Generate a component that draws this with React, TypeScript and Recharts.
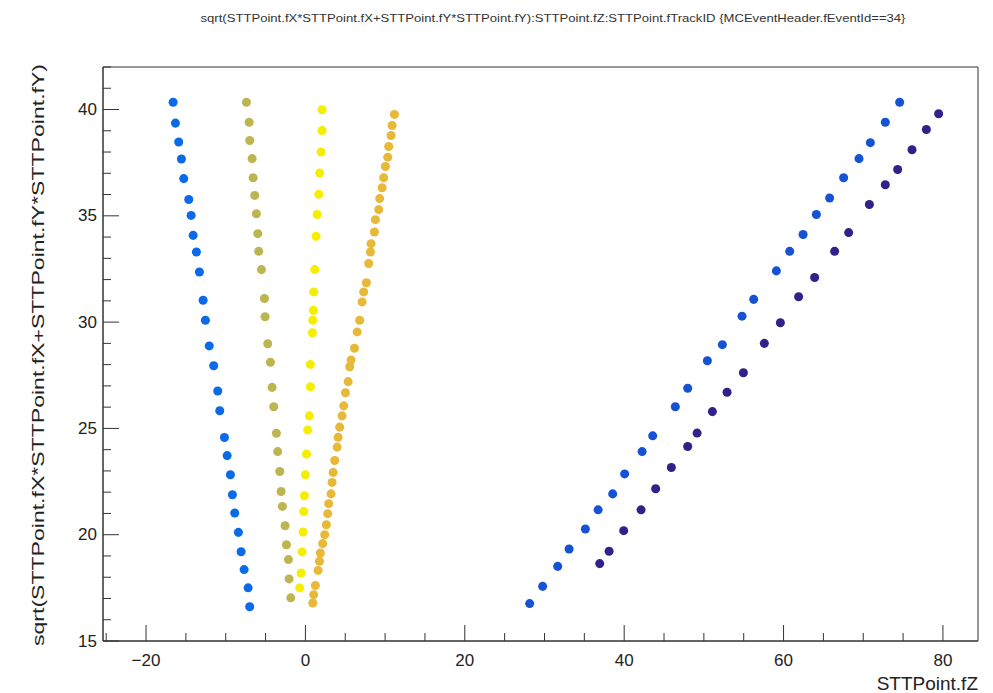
import { ReferenceArea, Scatter, ScatterChart, XAxis, YAxis, ZAxis } from 'recharts'

// STT hit positions per track: z along the beam, r = sqrt(x*x + y*y)
const track1Z = [-16.6, -16.31, -15.9, -15.56, -15.27, -14.64, -14.34, -14.09, -13.68, -13.3, -12.84, -12.55, -12.07, -11.51, -11.0, -10.75, -10.16, -9.82, -9.41, -9.16, -8.87, -8.41, -8.07, -7.69, -7.19, -6.99]
const track1R = [40.34, 39.36, 38.47, 37.67, 36.75, 35.77, 35.02, 34.08, 33.3, 32.36, 31.03, 30.09, 28.88, 27.95, 26.76, 25.83, 24.57, 23.72, 22.82, 21.88, 21.02, 20.11, 19.2, 18.36, 17.5, 16.61]

const track2Z = [-7.4, -7.06, -6.99, -6.69, -6.56, -6.36, -6.15, -5.98, -5.86, -5.52, -5.14, -5.06, -4.73, -4.39, -4.18, -3.98, -3.64, -3.48, -3.22, -3.05, -2.89, -2.55, -2.38, -2.13, -2.05, -1.84]
const track2R = [40.34, 39.4, 38.54, 37.69, 36.79, 35.96, 35.1, 34.16, 33.33, 32.47, 31.11, 30.25, 28.98, 28.11, 26.93, 26.02, 24.77, 23.91, 22.97, 22.03, 21.33, 20.42, 19.53, 18.83, 17.92, 17.03]

const track3Z = [2.1, 2.1, 1.97, 1.79, 1.67, 1.47, 1.34, 1.17, 1.04, 1.0, 0.92, 0.88, 0.63, 0.63, 0.5, 0.29, 0.13, 0.0, -0.13, -0.21, -0.29, -0.41, -0.54, -0.72]
const track3R = [39.99, 39.01, 38.0, 37.01, 36.01, 35.06, 34.04, 32.47, 31.42, 30.56, 30.09, 29.5, 28.01, 26.96, 25.59, 24.93, 23.79, 22.82, 21.83, 21.09, 20.13, 19.19, 18.2, 17.5]

const track4Z = [11.17, 10.88, 10.75, 10.45, 10.33, 10.04, 9.82, 9.62, 9.32, 9.2, 8.78, 8.66, 8.24, 8.16, 7.94, 7.65, 7.31, 7.11, 6.81, 6.49, 6.15, 5.73, 5.56, 5.36, 5.02, 4.81, 4.6, 4.3, 4.1, 3.98, 3.68, 3.48, 3.35, 3.22, 2.92, 2.8, 2.63, 2.42, 2.17, 1.88, 1.76, 1.59, 1.25, 1.04, 0.92]
const track4R = [39.77, 39.25, 38.78, 38.26, 37.76, 37.32, 36.79, 36.32, 35.81, 35.29, 34.82, 34.24, 33.69, 33.3, 32.76, 31.85, 31.42, 30.95, 30.09, 29.54, 28.77, 28.22, 27.9, 27.2, 26.68, 26.06, 25.59, 25.06, 24.58, 24.12, 23.49, 22.93, 22.46, 21.92, 21.46, 20.99, 20.47, 20.0, 19.58, 19.14, 18.75, 18.32, 17.61, 17.18, 16.79]

const track5Z = [28.14, 29.77, 31.66, 33.09, 35.13, 36.73, 38.56, 40.06, 42.25, 43.58, 46.42, 47.97, 50.44, 52.32, 54.79, 56.25, 59.1, 60.77, 62.45, 64.12, 65.78, 67.54, 69.47, 70.89, 72.77, 74.57]
const track5R = [16.76, 17.57, 18.51, 19.33, 20.27, 21.17, 21.92, 22.86, 23.91, 24.65, 26.02, 26.89, 28.18, 28.94, 30.28, 31.07, 32.41, 33.33, 34.12, 35.06, 35.84, 36.79, 37.69, 38.44, 39.4, 40.34]

const track6Z = [36.93, 38.11, 39.94, 42.12, 43.95, 45.92, 47.97, 49.15, 51.07, 52.91, 54.96, 57.59, 59.6, 61.89, 63.9, 66.41, 68.17, 70.77, 72.77, 74.32, 76.12, 77.92, 79.46]
const track6R = [18.64, 19.22, 20.19, 21.17, 22.16, 23.16, 24.15, 24.78, 25.79, 26.7, 27.62, 29.0, 29.97, 31.19, 32.1, 33.33, 34.21, 35.53, 36.46, 37.18, 38.11, 39.06, 39.8]

const xTicks = [-25, -20, -15, -10, -5, 0, 5, 10, 15, 20, 25, 30, 35, 40, 45, 50, 55, 60, 65, 70, 75, 80]
const yTicks = [15, 16, 17, 18, 19, 20, 21, 22, 23, 24, 25, 26, 27, 28, 29, 30, 31, 32, 33, 34, 35, 36, 37, 38, 39, 40, 41, 42]

const X_DOMAIN: [number, number] = [-25.4, 84.4]
const Y_DOMAIN: [number, number] = [15, 42]

const toPoints = (z: number[], r: number[]) => z.map((v, i) => ({ z: v, r: r[i] }))

const tracks = [
  { name: 'track1', data: toPoints(track1Z, track1R), color: '#0a6ae8' },
  { name: 'track2', data: toPoints(track2Z, track2R), color: '#bdb550' },
  { name: 'track3', data: toPoints(track3Z, track3R), color: '#f5ee00' },
  { name: 'track4', data: toPoints(track4Z, track4R), color: '#e8b838' },
  { name: 'track5', data: toPoints(track5Z, track5R), color: '#1553d4' },
  { name: 'track6', data: toPoints(track6Z, track6R), color: '#34208a' },
]

const FONT = '"Liberation Sans", Arial, Helvetica, sans-serif'

// ROOT-style ticks: drawn inward, labels outside
const YTick = (props: any) => {
  const { x, y, payload } = props
  const v = payload.value
  const major = v % 5 === 0
  return (
    <g>
      <line x1={x} y1={y} x2={x + (major ? 16 : 8)} y2={y} stroke="#333" />
      {major && (
        <text x={x - 6} y={y} textAnchor="end" dominantBaseline="central" fontSize={17} fill="#222" fontFamily={FONT}>
          {v}
        </text>
      )}
    </g>
  )
}

const XTick = (props: any) => {
  const { x, y, payload } = props
  const v = payload.value
  const major = v % 20 === 0
  return (
    <g>
      <line x1={x} y1={y} x2={x} y2={y - (major ? 16 : 8)} stroke="#333" />
      {major && (
        <text x={x} y={y + 19} textAnchor="middle" dominantBaseline="central" fontSize={17} fill="#222" fontFamily={FONT}>
          {v < 0 ? `\u2212${Math.abs(v)}` : v}
        </text>
      )}
    </g>
  )
}

export default function App() {
  return (
    <div style={{ position: 'absolute', left: 0, top: 0, width: 993, height: 693, background: '#fff' }}>
      <svg width={993} height={693} style={{ position: 'absolute', left: 0, top: 0 }}>
        <text x={553} y={22} textAnchor="middle" fontSize={11} fill="#333" fontFamily={FONT} textLength={705} lengthAdjust="spacingAndGlyphs">
          {'sqrt(STTPoint.fX*STTPoint.fX+STTPoint.fY*STTPoint.fY):STTPoint.fZ:STTPoint.fTrackID {MCEventHeader.fEventId==34}'}
        </text>
        <text
          transform="translate(44, 64) rotate(-90)"
          textAnchor="end"
          fontSize={17}
          fill="#222"
          fontFamily={FONT}
          textLength={582}
          lengthAdjust="spacingAndGlyphs"
        >
          sqrt(STTPoint.fX*STTPoint.fX+STTPoint.fY*STTPoint.fY)
        </text>
        <text x={978} y={690} textAnchor="end" fontSize={19} fill="#222" fontFamily={FONT}>
          STTPoint.fZ
        </text>
      </svg>
      <div style={{ position: 'absolute', left: 0, top: 0 }}>
        <ScatterChart width={993} height={693} margin={{ top: 67, right: 15, bottom: 51, left: 102 }}>
          <XAxis
            type="number"
            dataKey="z"
            domain={X_DOMAIN}
            ticks={xTicks}
            allowDataOverflow
            height={1}
            tickSize={0}
            tickMargin={0}
            tickLine={false}
            axisLine={{ stroke: '#333' }}
            tick={<XTick />}
            interval={0}
          />
          <YAxis
            type="number"
            dataKey="r"
            domain={Y_DOMAIN}
            ticks={yTicks}
            allowDataOverflow
            width={1}
            tickSize={0}
            tickMargin={0}
            tickLine={false}
            axisLine={{ stroke: '#333' }}
            tick={<YTick />}
            interval={0}
          />
          <ZAxis range={[90, 90]} />
          <ReferenceArea x1={X_DOMAIN[0]} x2={X_DOMAIN[1]} y1={Y_DOMAIN[0]} y2={Y_DOMAIN[1]} fill="none" stroke="#333" strokeOpacity={1} />
          {tracks.map((t) => (
            <Scatter key={t.name} name={t.name} data={t.data} fill={t.color} shape="circle" isAnimationActive={false} />
          ))}
        </ScatterChart>
      </div>
    </div>
  )
}
